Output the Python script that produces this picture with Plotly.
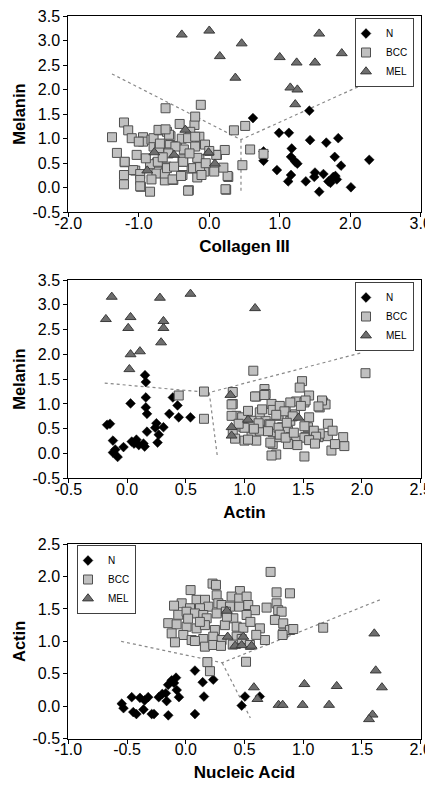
import plotly.graph_objects as go

# ---------------- Panel 1: Collagen III vs Melanin ----------------
p1_n_x = [0.62, 1.42, 0.99, 1.13, 1.43, 1.66, 1.83, 0.77, 0.77, 1.17, 1.16, 1.22, 1.25, 1.78, 1.87, 2.27,
          0.96, 1.16, 1.12, 1.37, 1.50, 1.49, 1.62, 1.69, 1.76, 1.81, 1.79, 1.56, 2.01, 1.72]
p1_n_y = [1.42, 1.57, 1.12, 1.12, 0.97, 0.92, 1.01, 0.74, 0.55, 0.80, 0.63, 0.53, 0.49, 0.63, 0.45, 0.57,
          0.36, 0.26, 0.13, 0.13, 0.31, 0.22, 0.28, 0.13, 0.22, 0.17, 0.24, -0.08, 0.01, 0.10]

p1_bcc_x = [-1.38, -1.31, -1.21, -1.15, -1.20, -1.21, -1.21, -1.10, -1.03, -1.05, -1.08, -0.97, -0.94, -0.94,
            -1.00, -0.84, -0.82, -0.79, -0.79, -0.71, -0.74, -0.75, -0.63, -0.60, -0.62, -0.55, -0.56, -0.57,
            -0.51, -0.61, -0.63, -0.42, -0.46, -0.36, -0.38, -0.38, -0.39, -0.29, -0.25, -0.21, -0.20, -0.27,
            -0.12, -0.14, -0.14, -0.14, -0.06, -0.07, 0.07, 0.11, 0.22, 0.27, 0.24, 0.35, 0.51, 0.58, 0.47,
            0.77, -0.71, -0.98, -0.72, -0.57, -0.62, -0.30, -0.20, -0.70, -0.48, -0.20, -1.20, -0.58, -0.37,
            -0.17, 0.10, -0.84, -0.73, -0.60, -0.50, -0.37, -0.23, -0.13, -0.98, -0.82, -0.52, -0.40, -0.17,
            -0.11, 0.26, 0.20, -0.98, -0.30, 0.23, -0.90, -0.66, -0.28, -0.05, 0.00]
p1_bcc_y = [1.03, 0.71, 1.33, 1.17, 0.52, 0.26, 0.07, 1.01, 0.67, 0.35, 0.36, 0.02, 1.03, 0.94,
            0.94, -0.08, 0.98, 0.84, 1.01, 1.17, 0.51, 0.29, 0.15, 1.14, 1.62, 1.05, 0.87, 0.72,
            0.16, 0.43, 0.29, 1.30, 0.85, 0.78, 0.53, 0.26, 1.00, -0.05, 0.39, 1.28, 1.45, 1.14,
            1.69, 1.04, 0.58, 0.26, 0.88, 0.33, 0.33, 0.67, 0.77, 0.22, -0.04, 1.17, 1.26, 0.78, 0.46,
            0.69, 0.81, 0.28, 1.18, 1.08, 1.19, 1.01, 1.04, 0.90, 0.84, 0.84, 0.53, 0.70, 0.58,
            0.61, 0.67, 0.48, 0.53, 0.40, 0.43, 0.53, 0.40, 0.42, 0.16, 0.17, 0.17, 0.24, 0.21,
            0.26, 0.24, 0.41, 0.03, -0.06, -0.03, 0.60, 0.62, 0.70, 0.50, 0.75]

p1_mel_x = [-0.39, 0.00, 0.46, 0.15, 0.37, 1.00, 1.24, 1.50, 1.56, 1.88, 1.15, 1.25, 1.22,
            -0.34, -0.78, -0.50, -0.01, 0.08, -0.88]
p1_mel_y = [3.12, 3.20, 2.94, 2.68, 2.24, 2.66, 2.55, 2.55, 3.14, 2.74, 2.04, 2.00, 1.70,
            1.18, 0.72, 0.67, 0.72, 0.49, 0.35]

p1_line_x = [-1.38, 0.45, 2.27]
p1_line_y = [2.32, 0.98, 2.16]
p1_vline_x = [0.45, 0.45]
p1_vline_y = [0.98, -0.12]

# ---------------- Panel 2: Actin vs Melanin ----------------
p2_n_x = [0.153, 0.16, 0.16, 0.16, 0.17, 0.03, 0.39, 0.43, 0.36, 0.44, 0.54, -0.145, -0.17, 0.25, 0.31,
          0.24, 0.17, 0.27, 0.26, -0.12, 0.04, 0.08, 0.10, 0.15, -0.03, -0.10, -0.12, -0.08, 0.14, 0.06]
p2_n_y = [1.58, 1.44, 1.13, 0.93, 0.80, 1.01, 1.13, 0.97, 0.80, 0.73, 0.73, 0.60, 0.58, 0.61, 0.53,
          0.52, 0.44, 0.38, 0.22, 0.26, 0.24, 0.28, 0.17, 0.14, 0.13, 0.08, 0.02, -0.07, 0.20, 0.20]

p2_bcc_x = [0.44, 0.655, 0.655, 0.90, 0.90, 1.075, 1.10, 1.17, 1.18, 1.23, 1.24, 2.03, 1.49, 1.47, 1.55,
            1.44, 1.51, 1.64, 1.67, 1.69, 1.71, 1.71, 1.74, 1.85, 1.84, 1.63, 1.55, 1.54, 1.52, 1.51,
            1.27, 1.23, 1.24, 1.06, 1.00, 1.10, 0.93, 0.98, 0.89, 0.89, 0.99, 0.90, 1.13, 1.18, 1.29,
            1.35, 1.32, 1.37, 1.39, 1.43, 1.39, 1.44, 1.37, 1.29, 1.24, 1.21, 1.06, 1.03, 1.13, 1.39,
            1.64, 1.77, 1.59, 1.75, 1.09, 1.17, 1.66, 1.52, 1.63, 1.30, 1.15, 1.48, 1.34, 1.27, 1.41,
            1.12, 1.22, 1.29, 1.36, 1.51, 1.00, 1.20, 1.30, 1.35, 1.42, 1.51, 1.61, 1.22, 1.45, 1.55,
            1.03, 0.95, 1.08, 0.92, 1.60]
p2_bcc_y = [1.17, 1.25, 0.70, 1.24, 1.00, 1.67, 1.15, 1.30, 1.20, 1.00, 0.88, 1.62, 1.46, 1.33, 1.17,
            1.05, 1.03, 0.93, 1.03, 0.99, 0.60, 0.35, 0.06, 0.15, 0.33, 0.33, 0.73, 0.53, 0.33, -0.06,
            -0.02, -0.04, 0.19, 0.38, 0.26, 0.26, 0.76, 0.73, 0.76, 0.99, 0.53, 0.43, 0.46, 0.66, 0.76,
            0.86, 0.53, 0.46, 0.66, 0.79, 0.33, 0.26, 0.19, 0.33, 0.43, 0.59, 0.66, 0.86, 0.83, 1.03,
            0.40, 0.19, 0.46, 0.46, 1.15, 1.18, 1.07, 1.07, 0.95, 0.96, 0.89, 0.96, 0.85, 0.78, 0.75,
            0.61, 0.58, 0.52, 0.62, 0.55, 0.52, 0.45, 0.38, 0.32, 0.42, 0.32, 0.34, 0.22, 0.17, 0.27,
            0.28, 0.60, 0.50, 0.30, 0.20]

p2_mel_x = [-0.18, -0.13, 0.03, 0.01, 0.03, 0.02, 0.11, 0.28, 0.31, 0.31, 0.29, 0.54, 1.09,
            0.88, 0.89, 0.89, 1.03, 1.46]
p2_mel_y = [2.71, 3.16, 2.75, 2.53, 2.00, 1.70, 2.06, 3.14, 2.67, 2.53, 2.24, 3.22, 2.93,
            1.18, 0.53, 0.36, 0.68, 0.72]

p2_line_x = [-0.19, 0.70, 2.01]
p2_line_y = [1.42, 1.23, 2.04]
p2_vline_x = [0.70, 0.77]
p2_vline_y = [1.23, -0.08]

# ---------------- Panel 3: Nucleic Acid vs Actin ----------------
p3_n_x = [-0.545, -0.53, -0.46, -0.447, -0.42, -0.39, -0.35, -0.32, -0.29, -0.27, -0.23, -0.20, -0.17,
          -0.163, -0.149, -0.15, -0.12, -0.083, -0.077, -0.058, 0.078, 0.078, 0.144, 0.234, 0.155,
          0.476, 0.504, 0.63, -0.36, -0.10]
p3_n_y = [0.04, -0.03, 0.14, -0.09, -0.12, 0.13, 0.09, 0.14, -0.12, -0.12, 0.14, 0.19, 0.20,
          0.08, -0.14, 0.33, 0.40, 0.44, 0.25, 0.14, 0.55, -0.12, 0.37, 0.41, 0.15,
          0.01, 0.15, 0.15, -0.05, 0.36]

p3_bcc_x = [0.722, 0.228, 0.257, 0.041, 0.773, 0.887, 0.461, -0.035, 0.263, 0.39, 0.455, 0.518, 0.092,
            0.164, 0.277, 0.305, 0.192, 0.036, 0.121, 0.455, 0.532, 0.589, 0.376, 0.688, 0.773, 0.787,
            0.816, -0.064, 0.007, 0.078, 0.149, 0.178, 0.263, 0.342, 0.405, 0.518, 0.759, 0.83, -0.149,
            -0.078, 0.007, 0.092, 0.163, 0.248, 0.333, 0.433, 0.49, 0.631, 0.83, 0.887, 0.915, 1.17,
            -0.12, -0.021, 0.05, 0.149, 0.234, 0.305, 0.433, 0.476, 0.674, 0.824, -0.092, 0.078, 0.163,
            0.234, 0.546, 0.184, 0.206, 0.513, 0.30, 0.40, 0.12, 0.35, 0.55, 0.02, -0.10, 0.60]
p3_bcc_y = [2.07, 1.89, 1.87, 1.79, 1.755, 1.74, 1.775, 1.586, 1.71, 1.69, 1.66, 1.69, 1.64,
            1.64, 1.586, 1.56, 1.535, 1.51, 1.51, 1.535, 1.56, 1.48, 1.535, 1.52, 1.586, 1.48,
            1.457, 1.41, 1.457, 1.43, 1.406, 1.355, 1.43, 1.457, 1.355, 1.406, 1.33, 1.277, 1.28,
            1.262, 1.226, 1.20, 1.25, 1.175, 1.25, 1.226, 1.21, 1.20, 1.123, 1.175, 1.19, 1.21,
            1.123, 1.098, 1.02, 1.036, 1.072, 1.02, 1.072, 1.036, 1.02, 1.098, 0.985, 1.005, 0.918,
            0.944, 0.944, 0.68, 0.54, 0.685, 0.93, 0.95, 1.30, 1.38, 1.30, 1.35, 1.55, 1.10]

p3_mel_x = [0.35, 0.357, 0.42, 0.476, 0.49, 0.56, 0.58, 0.61, 0.79, 0.825, 0.995, 1.01, 1.22, 1.285,
            1.605, 1.617, 1.67, 1.59, 1.56]
p3_mel_y = [1.47, 1.07, 0.93, 0.94, 1.07, 0.93, 0.29, 0.11, 0.02, 0.02, 0.02, 0.34, 0.02, 0.31,
            1.12, 0.55, 0.29, -0.13, -0.20]

p3_line_x = [-0.55, 0.31, 1.66]
p3_line_y = [1.00, 0.67, 1.645]
p3_vline_x = [0.31, 0.55]
p3_vline_y = [0.67, -0.18]

# ---------------- tick labels ----------------
x1_ticks = [-2.0, -1.0, 0.0, 1.0, 2.0, 3.0]
x1_labels = ["-2.0", "-1.0", "0.0", "1.0", "2.0", "3.0"]
y12_ticks = [-0.5, 0.0, 0.5, 1.0, 1.5, 2.0, 2.5, 3.0, 3.5]
y12_labels = ["-0.5", "0.0", "0.5", "1.0", "1.5", "2.0", "2.5", "3.0", "3.5"]
x2_ticks = [-0.5, 0.0, 0.5, 1.0, 1.5, 2.0, 2.5]
x2_labels = ["-0.5", "0.0", "0.5", "1.0", "1.5", "2.0", "2.5"]
x3_ticks = [-1.0, -0.5, 0.0, 0.5, 1.0, 1.5, 2.0]
x3_labels = ["-1.0", "-0.5", "0.0", "0.5", "1.0", "1.5", "2.0"]
y3_ticks = [-0.5, 0.0, 0.5, 1.0, 1.5, 2.0, 2.5]
y3_labels = ["-0.5", "0.0", "0.5", "1.0", "1.5", "2.0", "2.5"]

FONT = "Liberation Sans, Arial, sans-serif"
N_MARK = dict(symbol="diamond", size=7.5, color="black", line=dict(color="black", width=0.5))
BCC_MARK = dict(symbol="square", size=9, color="#c0c0c0", line=dict(color="#505050", width=1))
MEL_MARK = dict(symbol="triangle-up", size=9.5, color="#6e6e6e", line=dict(color="#3a3a3a", width=1))
LINE = dict(color="#888888", width=1.2, dash="dot")

fig = go.Figure()

panels = [
    ("x", "y", "legend", p1_n_x, p1_n_y, p1_bcc_x, p1_bcc_y, p1_mel_x, p1_mel_y,
     p1_line_x, p1_line_y, p1_vline_x, p1_vline_y),
    ("x2", "y2", "legend2", p2_n_x, p2_n_y, p2_bcc_x, p2_bcc_y, p2_mel_x, p2_mel_y,
     p2_line_x, p2_line_y, p2_vline_x, p2_vline_y),
    ("x3", "y3", "legend3", p3_n_x, p3_n_y, p3_bcc_x, p3_bcc_y, p3_mel_x, p3_mel_y,
     p3_line_x, p3_line_y, p3_vline_x, p3_vline_y),
]

for (xa, ya, lg, nx, ny, bx, by, mx, my, lx, ly, vx, vy) in panels:
    fig.add_trace(go.Scatter(x=lx, y=ly, mode="lines", line=LINE, xaxis=xa, yaxis=ya,
                             showlegend=False, hoverinfo="skip"))
    fig.add_trace(go.Scatter(x=vx, y=vy, mode="lines", line=LINE, xaxis=xa, yaxis=ya,
                             showlegend=False, hoverinfo="skip"))
    fig.add_trace(go.Scatter(x=nx, y=ny, mode="markers", name="N", marker=N_MARK,
                             xaxis=xa, yaxis=ya, legend=lg))
    fig.add_trace(go.Scatter(x=bx, y=by, mode="markers", name="BCC", marker=BCC_MARK,
                             xaxis=xa, yaxis=ya, legend=lg))
    fig.add_trace(go.Scatter(x=mx, y=my, mode="markers", name="MEL", marker=MEL_MARK,
                             xaxis=xa, yaxis=ya, legend=lg))

# the page body adds an 8 px margin round the figure
OFF = 8
W, H = 433 - OFF, 791 - OFF


def px_x(px):
    return (px - OFF) / W


def px_y(py):
    return 1 - (py - OFF) / H


xdom = [px_x(68.3), px_x(420.7)]


def ydom(top, bottom):
    return [px_y(bottom), px_y(top)]


def axis_common(is_x):
    d = dict(showline=True, linecolor="black", linewidth=1, mirror=True,
             ticks="outside", ticklen=4, tickcolor="black", tickwidth=1,
             showgrid=False, zeroline=False, automargin=False, ticklabeloverflow="allow",
             tickfont=dict(family=FONT, size=16, color="black"))
    if is_x:
        d["ticklabelstandoff"] = -8
    return d


def title(txt, size, standoff):
    return dict(text=txt, font=dict(family=FONT, size=size, color="black", weight="bold"),
                standoff=standoff)


fig.update_layout(
    template="none",
    width=W, height=H, autosize=False,
    margin=dict(l=0, r=0, t=0, b=0, pad=0),
    paper_bgcolor="white", plot_bgcolor="white",
    xaxis=dict(domain=xdom, anchor="y", range=[-2, 3], tickvals=x1_ticks, ticktext=x1_labels,
               title=title("Collagen III", 17, 9), **axis_common(True)),
    yaxis=dict(domain=ydom(16, 212.3), anchor="x", range=[-0.5, 3.5], tickvals=y12_ticks,
               ticktext=y12_labels, title=title("Melanin", 16.5, 2), **axis_common(False)),
    xaxis2=dict(domain=xdom, anchor="y2", range=[-0.5, 2.5], tickvals=x2_ticks, ticktext=x2_labels,
                title=title("Actin", 17, 9), **axis_common(True)),
    yaxis2=dict(domain=ydom(280, 478.3), anchor="x2", range=[-0.5, 3.5], tickvals=y12_ticks,
                ticktext=y12_labels, title=title("Melanin", 16.5, 2), **axis_common(False)),
    xaxis3=dict(domain=xdom, anchor="y3", range=[-1, 2], tickvals=x3_ticks, ticktext=x3_labels,
                title=title("Nucleic Acid", 17, 9), **axis_common(True)),
    yaxis3=dict(domain=ydom(544, 738.7), anchor="x3", range=[-0.5, 2.5], tickvals=y3_ticks,
                ticktext=y3_labels, title=title("Actin", 16.5, 2), **axis_common(False)),
)

leg_common = dict(bgcolor="white", bordercolor="#404040", borderwidth=1,
                  font=dict(family=FONT, size=10, color="black"), indentation=-10,
                  itemwidth=30, tracegroupgap=0, yanchor="top", xref="paper", yref="paper")
fig.update_layout(
    legend=dict(x=px_x(414), xanchor="right", y=px_y(18), **leg_common),
    legend2=dict(x=px_x(414), xanchor="right", y=px_y(282), **leg_common),
    legend3=dict(x=px_x(77), xanchor="left", y=px_y(545), **leg_common),
)

fig.write_html("out.html")
